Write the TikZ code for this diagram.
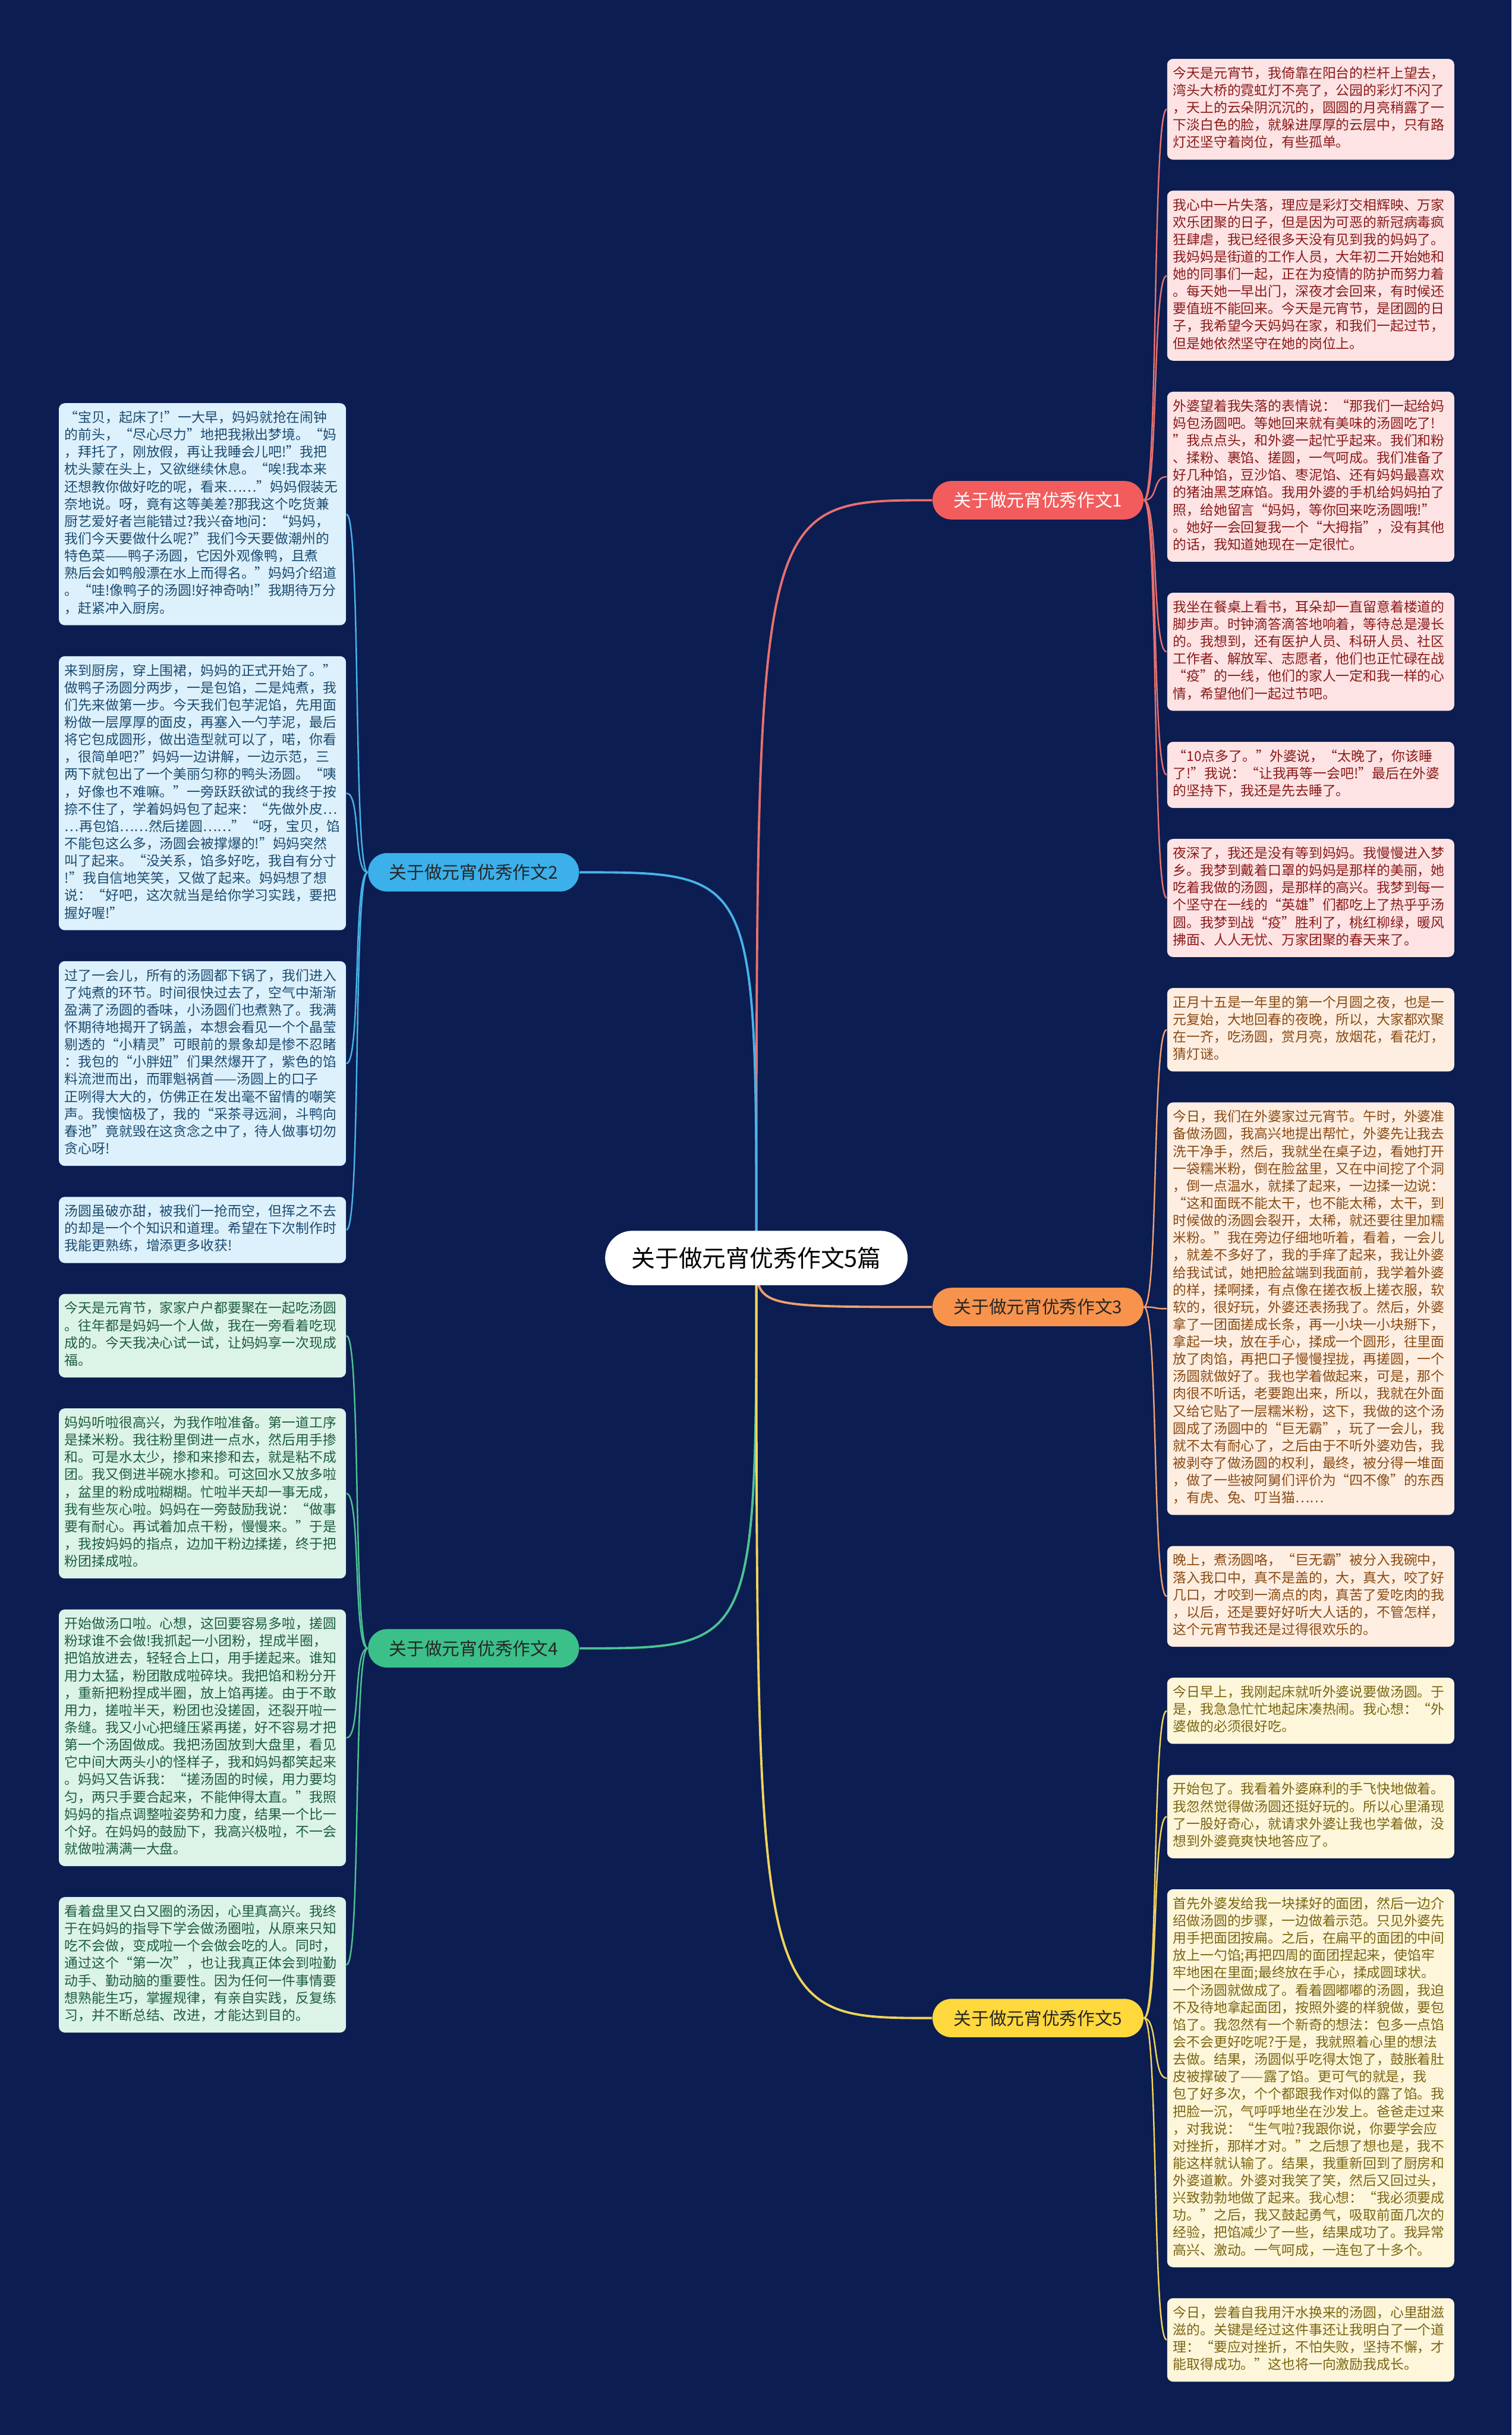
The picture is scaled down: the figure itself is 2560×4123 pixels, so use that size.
\documentclass[tikz,border=0pt]{standalone}
\usepackage{fontspec}
\setmainfont{Noto Sans CJK SC}
\usetikzlibrary{positioning}
\definecolor{bgnavy}{HTML}{0B1D51}
\definecolor{redtopic}{HTML}{F25C5C}\definecolor{redfill}{HTML}{FDE3E3}\definecolor{redtext}{HTML}{8B1A1A}\definecolor{redline}{HTML}{E8706F}
\definecolor{bluetopic}{HTML}{3BB0EA}\definecolor{bluefill}{HTML}{DDF1FC}\definecolor{bluetext}{HTML}{1C4B70}\definecolor{blueline}{HTML}{48B3E8}
\definecolor{orangetopic}{HTML}{F7934C}\definecolor{orangefill}{HTML}{FEEEE2}\definecolor{orangetext}{HTML}{8A4A12}\definecolor{orangeline}{HTML}{F0A070}
\definecolor{greentopic}{HTML}{3CC08A}\definecolor{greenfill}{HTML}{DCF3E8}\definecolor{greentext}{HTML}{1E5E3F}\definecolor{greenline}{HTML}{4CC393}
\definecolor{yellowtopic}{HTML}{FFD83E}\definecolor{yellowfill}{HTML}{FDF6DA}\definecolor{yellowtext}{HTML}{7B6512}\definecolor{yellowline}{HTML}{F2D35A}
\newcommand{\essayfont}{\fontsize{6.54pt}{8.34pt}\selectfont}
\tikzstyle{essay} = [rectangle, rounded corners=0.1cm, text width=4.66cm, inner xsep=0.1cm, inner ysep=0.12cm, align=left, font=\essayfont, execute at begin node=\strut, execute at end node=\strut]
\tikzstyle{essayred} = [essay, fill=redfill, text=redtext]
\tikzstyle{essayblue} = [essay, fill=bluefill, text=bluetext]
\tikzstyle{essayorange} = [essay, fill=orangefill, text=orangetext]
\tikzstyle{essaygreen} = [essay, fill=greenfill, text=greentext]
\tikzstyle{essayyellow} = [essay, fill=yellowfill, text=yellowtext]
\tikzstyle{topic} = [rectangle, rounded corners=0.32cm, minimum width=3.57cm, minimum height=0.65cm, inner sep=0pt, text=black!85, font=\fontsize{8.5pt}{10pt}\selectfont]
\tikzstyle{root} = [rectangle, fill=white, rounded corners=0.46cm, minimum width=5.12cm, minimum height=0.92cm, font=\fontsize{11.4pt}{13.5pt}\selectfont]
\tikzstyle{trunk} = [draw, line width=1.1pt]
\tikzstyle{twig} = [draw, line width=0.7pt]
\pgfdeclarelayer{background}
\pgfsetlayers{background,main}
\begin{document}
\begin{tikzpicture}[x=0.01cm, y=-0.01cm]
    \useasboundingbox (0,0) rectangle (2560,4123);
    % Place nodes
    \node [root] (yuanxiao) at (1281,2130) {关于做元宵优秀作文5篇};
    \node [topic, fill=redtopic, text=white] (essay1) at (1758,847) {关于做元宵优秀作文1};
    \node [topic, fill=bluetopic] (essay2) at (802,1477) {关于做元宵优秀作文2};
    \node [topic, fill=orangetopic] (essay3) at (1758,2213) {关于做元宵优秀作文3};
    \node [topic, fill=greentopic] (essay4) at (802,2791) {关于做元宵优秀作文4};
    \node [topic, fill=yellowtopic] (essay5) at (1758,3417) {关于做元宵优秀作文5};
    % Right column
    \node [essayred, anchor=north west] (r1) at (1976,99) {今天是元宵节，我倚靠在阳台的栏杆上望去，\\湾头大桥的霓虹灯不亮了，公园的彩灯不闪了\\，天上的云朵阴沉沉的，圆圆的月亮稍露了一\\下淡白色的脸，就躲进厚厚的云层中，只有路\\灯还坚守着岗位，有些孤单。};
    \node [essayred, below=0.51cm of r1] (r2) {我心中一片失落，理应是彩灯交相辉映、万家\\欢乐团聚的日子，但是因为可恶的新冠病毒疯\\狂肆虐，我已经很多天没有见到我的妈妈了。\\我妈妈是街道的工作人员，大年初二开始她和\\她的同事们一起，正在为疫情的防护而努力着\\。每天她一早出门，深夜才会回来，有时候还\\要值班不能回来。今天是元宵节，是团圆的日\\子，我希望今天妈妈在家，和我们一起过节，\\但是她依然坚守在她的岗位上。};
    \node [essayred, below=0.51cm of r2] (r3) {外婆望着我失落的表情说：“那我们一起给妈\\妈包汤圆吧。等她回来就有美味的汤圆吃了!\\”我点点头，和外婆一起忙乎起来。我们和粉\\、揉粉、裹馅、搓圆，一气呵成。我们准备了\\好几种馅，豆沙馅、枣泥馅、还有妈妈最喜欢\\的猪油黑芝麻馅。我用外婆的手机给妈妈拍了\\照，给她留言“妈妈，等你回来吃汤圆哦!”\\。她好一会回复我一个“大拇指”，没有其他\\的话，我知道她现在一定很忙。};
    \node [essayred, below=0.51cm of r3] (r4) {我坐在餐桌上看书，耳朵却一直留意着楼道的\\脚步声。时钟滴答滴答地响着，等待总是漫长\\的。我想到，还有医护人员、科研人员、社区\\工作者、解放军、志愿者，他们也正忙碌在战\\“疫”的一线，他们的家人一定和我一样的心\\情，希望他们一起过节吧。};
    \node [essayred, below=0.51cm of r4] (r5) {“10点多了。”外婆说，“太晚了，你该睡\\了!”我说：“让我再等一会吧!”最后在外婆\\的坚持下，我还是先去睡了。};
    \node [essayred, below=0.51cm of r5] (r6) {夜深了，我还是没有等到妈妈。我慢慢进入梦\\乡。我梦到戴着口罩的妈妈是那样的美丽，她\\吃着我做的汤圆，是那样的高兴。我梦到每一\\个坚守在一线的“英雄”们都吃上了热乎乎汤\\圆。我梦到战“疫”胜利了，桃红柳绿，暖风\\拂面、人人无忧、万家团聚的春天来了。};
    \node [essayorange, below=0.51cm of r6] (r7) {正月十五是一年里的第一个月圆之夜，也是一\\元复始，大地回春的夜晚，所以，大家都欢聚\\在一齐，吃汤圆，赏月亮，放烟花，看花灯，\\猜灯谜。};
    \node [essayorange, below=0.51cm of r7] (r8) {今日，我们在外婆家过元宵节。午时，外婆准\\备做汤圆，我高兴地提出帮忙，外婆先让我去\\洗干净手，然后，我就坐在桌子边，看她打开\\一袋糯米粉，倒在脸盆里，又在中间挖了个洞\\，倒一点温水，就揉了起来，一边揉一边说：\\“这和面既不能太干，也不能太稀，太干，到\\时候做的汤圆会裂开，太稀，就还要往里加糯\\米粉。”我在旁边仔细地听着，看着，一会儿\\，就差不多好了，我的手痒了起来，我让外婆\\给我试试，她把脸盆端到我面前，我学着外婆\\的样，揉啊揉，有点像在搓衣板上搓衣服，软\\软的，很好玩，外婆还表扬我了。然后，外婆\\拿了一团面搓成长条，再一小块一小块掰下，\\拿起一块，放在手心，揉成一个圆形，往里面\\放了肉馅，再把口子慢慢捏拢，再搓圆，一个\\汤圆就做好了。我也学着做起来，可是，那个\\肉很不听话，老要跑出来，所以，我就在外面\\又给它贴了一层糯米粉，这下，我做的这个汤\\圆成了汤圆中的“巨无霸”，玩了一会儿，我\\就不太有耐心了，之后由于不听外婆劝告，我\\被剥夺了做汤圆的权利，最终，被分得一堆面\\，做了一些被阿舅们评价为“四不像”的东西\\，有虎、兔、叮当猫……};
    \node [essayorange, below=0.51cm of r8] (r9) {晚上，煮汤圆咯，“巨无霸”被分入我碗中，\\落入我口中，真不是盖的，大，真大，咬了好\\几口，才咬到一滴点的肉，真苦了爱吃肉的我\\，以后，还是要好好听大人话的，不管怎样，\\这个元宵节我还是过得很欢乐的。};
    \node [essayyellow, below=0.51cm of r9] (r10) {今日早上，我刚起床就听外婆说要做汤圆。于\\是，我急急忙忙地起床凑热闹。我心想：“外\\婆做的必须很好吃。};
    \node [essayyellow, below=0.51cm of r10] (r11) {开始包了。我看着外婆麻利的手飞快地做着。\\我忽然觉得做汤圆还挺好玩的。所以心里涌现\\了一股好奇心，就请求外婆让我也学着做，没\\想到外婆竟爽快地答应了。};
    \node [essayyellow, below=0.51cm of r11] (r12) {首先外婆发给我一块揉好的面团，然后一边介\\绍做汤圆的步骤，一边做着示范。只见外婆先\\用手把面团按扁。之后，在扁平的面团的中间\\放上一勺馅;再把四周的面团捏起来，使馅牢\\牢地困在里面;最终放在手心，揉成圆球状。\\一个汤圆就做成了。看着圆嘟嘟的汤圆，我迫\\不及待地拿起面团，按照外婆的样貌做，要包\\馅了。我忽然有一个新奇的想法：包多一点馅\\会不会更好吃呢?于是，我就照着心里的想法\\去做。结果，汤圆似乎吃得太饱了，鼓胀着肚\\皮被撑破了——露了馅。更可气的就是，我\\包了好多次，个个都跟我作对似的露了馅。我\\把脸一沉，气呼呼地坐在沙发上。爸爸走过来\\，对我说：“生气啦?我跟你说，你要学会应\\对挫折，那样才对。”之后想了想也是，我不\\能这样就认输了。结果，我重新回到了厨房和\\外婆道歉。外婆对我笑了笑，然后又回过头，\\兴致勃勃地做了起来。我心想：“我必须要成\\功。”之后，我又鼓起勇气，吸取前面几次的\\经验，把馅减少了一些，结果成功了。我异常\\高兴、激动。一气呵成，一连包了十多个。};
    \node [essayyellow, below=0.51cm of r12] (r13) {今日，尝着自我用汗水换来的汤圆，心里甜滋\\滋的。关键是经过这件事还让我明白了一个道\\理：“要应对挫折，不怕失败，坚持不懈，才\\能取得成功。”这也将一向激励我成长。};
    % Left column
    \node [essayblue, anchor=north west] (l1) at (99,682) {“宝贝，起床了!”一大早，妈妈就抢在闹钟\\的前头，“尽心尽力”地把我揪出梦境。“妈\\，拜托了，刚放假，再让我睡会儿吧!”我把\\枕头蒙在头上，又欲继续休息。“唉!我本来\\还想教你做好吃的呢，看来……”妈妈假装无\\奈地说。呀，竟有这等美差?那我这个吃货兼\\厨艺爱好者岂能错过?我兴奋地问：“妈妈，\\我们今天要做什么呢?”我们今天要做潮州的\\特色菜——鸭子汤圆，它因外观像鸭，且煮\\熟后会如鸭般漂在水上而得名。”妈妈介绍道\\。“哇!像鸭子的汤圆!好神奇呐!”我期待万分\\，赶紧冲入厨房。};
    \node [essayblue, below=0.51cm of l1] (l2) {来到厨房，穿上围裙，妈妈的正式开始了。”\\做鸭子汤圆分两步，一是包馅，二是炖煮，我\\们先来做第一步。今天我们包芋泥馅，先用面\\粉做一层厚厚的面皮，再塞入一勺芋泥，最后\\将它包成圆形，做出造型就可以了，喏，你看\\，很简单吧?”妈妈一边讲解，一边示范，三\\两下就包出了一个美丽匀称的鸭头汤圆。“咦\\，好像也不难嘛。”一旁跃跃欲试的我终于按\\捺不住了，学着妈妈包了起来：“先做外皮…\\…再包馅……然后搓圆……”“呀，宝贝，馅\\不能包这么多，汤圆会被撑爆的!”妈妈突然\\叫了起来。“没关系，馅多好吃，我自有分寸\\!”我自信地笑笑，又做了起来。妈妈想了想\\说：“好吧，这次就当是给你学习实践，要把\\握好喔!”};
    \node [essayblue, below=0.51cm of l2] (l3) {过了一会儿，所有的汤圆都下锅了，我们进入\\了炖煮的环节。时间很快过去了，空气中渐渐\\盈满了汤圆的香味，小汤圆们也煮熟了。我满\\怀期待地揭开了锅盖，本想会看见一个个晶莹\\剔透的“小精灵”可眼前的景象却是惨不忍睹\\：我包的“小胖妞”们果然爆开了，紫色的馅\\料流泄而出，而罪魁祸首——汤圆上的口子\\正咧得大大的，仿佛正在发出毫不留情的嘲笑\\声。我懊恼极了，我的“采茶寻远涧，斗鸭向\\春池”竟就毁在这贪念之中了，待人做事切勿\\贪心呀!};
    \node [essayblue, below=0.51cm of l3] (l4) {汤圆虽破亦甜，被我们一抢而空，但挥之不去\\的却是一个个知识和道理。希望在下次制作时\\我能更熟练，增添更多收获!};
    \node [essaygreen, below=0.51cm of l4] (l5) {今天是元宵节，家家户户都要聚在一起吃汤圆\\。往年都是妈妈一个人做，我在一旁看着吃现\\成的。今天我决心试一试，让妈妈享一次现成\\福。};
    \node [essaygreen, below=0.51cm of l5] (l6) {妈妈听啦很高兴，为我作啦准备。第一道工序\\是揉米粉。我往粉里倒进一点水，然后用手掺\\和。可是水太少，掺和来掺和去，就是粘不成\\团。我又倒进半碗水掺和。可这回水又放多啦\\，盆里的粉成啦糊糊。忙啦半天却一事无成，\\我有些灰心啦。妈妈在一旁鼓励我说：“做事\\要有耐心。再试着加点干粉，慢慢来。”于是\\，我按妈妈的指点，边加干粉边揉搓，终于把\\粉团揉成啦。};
    \node [essaygreen, below=0.51cm of l6] (l7) {开始做汤口啦。心想，这回要容易多啦，搓圆\\粉球谁不会做!我抓起一小团粉，捏成半圈，\\把馅放进去，轻轻合上口，用手搓起来。谁知\\用力太猛，粉团散成啦碎块。我把馅和粉分开\\，重新把粉捏成半圈，放上馅再搓。由于不敢\\用力，搓啦半天，粉团也没搓固，还裂开啦一\\条缝。我又小心把缝压紧再搓，好不容易才把\\第一个汤固做成。我把汤固放到大盘里，看见\\它中间大两头小的怪样子，我和妈妈都笑起来\\。妈妈又告诉我：“搓汤固的时候，用力要均\\匀，两只手要合起来，不能伸得太直。”我照\\妈妈的指点调整啦姿势和力度，结果一个比一\\个好。在妈妈的鼓励下，我高兴极啦，不一会\\就做啦满满一大盘。};
    \node [essaygreen, below=0.51cm of l7] (l8) {看着盘里又白又圈的汤因，心里真高兴。我终\\于在妈妈的指导下学会做汤圈啦，从原来只知\\吃不会做，变成啦一个会做会吃的人。同时，\\通过这个“第一次”，也让我真正体会到啦勤\\动手、勤动脑的重要性。因为任何一件事情要\\想熟能生巧，掌握规律，有亲自实践，反复练\\习，并不断总结、改进，才能达到目的。};
    % Draw edges
    \begin{pgfonlayer}{background}
    \fill [bgnavy] (0,0) rectangle (2560,4123);
    \path [trunk, redline] (yuanxiao.center) .. controls (yuanxiao.center |- essay1.west) .. (essay1.west);
    \path [trunk, blueline] (yuanxiao.center) .. controls (yuanxiao.center |- essay2.east) .. (essay2.east);
    \path [trunk, orangeline] (yuanxiao.center) .. controls (yuanxiao.center |- essay3.west) .. (essay3.west);
    \path [trunk, greenline] (yuanxiao.center) .. controls (yuanxiao.center |- essay4.east) .. (essay4.east);
    \path [trunk, yellowline] (yuanxiao.center) .. controls (yuanxiao.center |- essay5.west) .. (essay5.west);
    \foreach \leaf in {r1,r2,r3,r4,r5,r6}
        \path [twig, redline] (essay1.east) .. controls +(25,0) and +(-25,0) .. (\leaf.west);
    \foreach \leaf in {r7,r8,r9}
        \path [twig, orangeline] (essay3.east) .. controls +(25,0) and +(-25,0) .. (\leaf.west);
    \foreach \leaf in {r10,r11,r12,r13}
        \path [twig, yellowline] (essay5.east) .. controls +(25,0) and +(-25,0) .. (\leaf.west);
    \foreach \leaf in {l1,l2,l3,l4}
        \path [twig, blueline] (essay2.west) .. controls +(-25,0) and +(25,0) .. (\leaf.east);
    \foreach \leaf in {l5,l6,l7,l8}
        \path [twig, greenline] (essay4.west) .. controls +(-25,0) and +(25,0) .. (\leaf.east);
    \end{pgfonlayer}
\end{tikzpicture}
\end{document}
